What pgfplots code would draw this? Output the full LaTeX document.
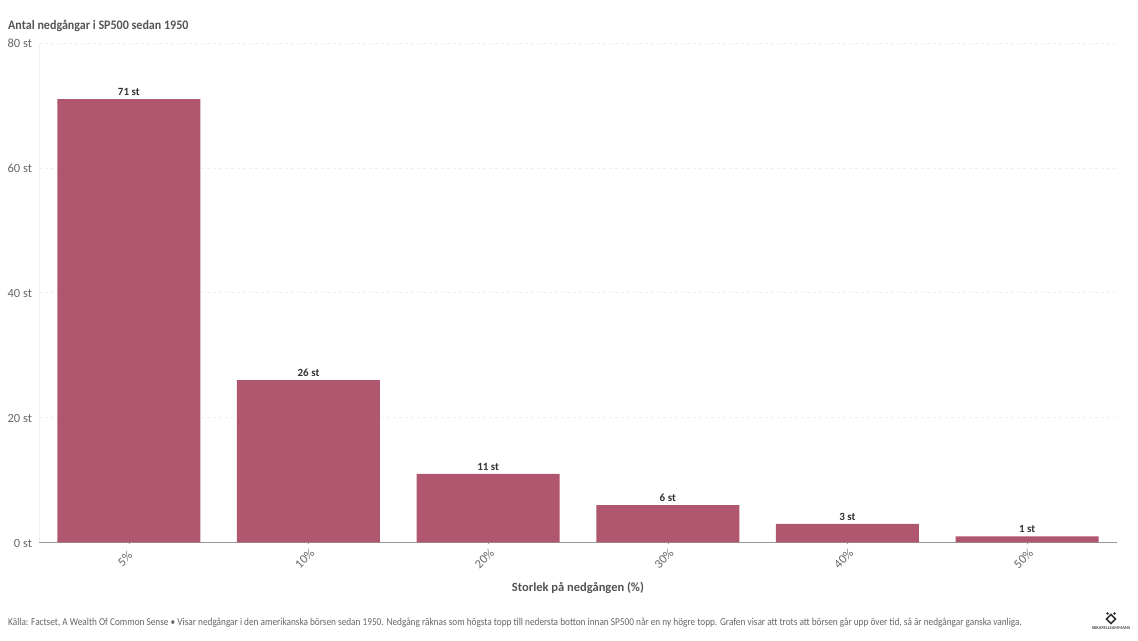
\documentclass[border=0pt]{standalone}
\usepackage{pgfplots}
\pgfplotsset{compat=1.18}
\usepackage{fontspec}
\setmainfont{Carlito}
\definecolor{bar}{HTML}{B0566F}
\definecolor{txt}{HTML}{666666}
\definecolor{dark}{HTML}{333333}
\definecolor{titlec}{HTML}{555555}
\begin{document}
\begin{tikzpicture}[x=1pt,y=1pt]
\path[use as bounding box] (0,0) rectangle (1138,640);
\begin{axis}[
  at={(39pt,97.5pt)}, anchor=south west,
  scale only axis, width=1078pt, height=499.5pt,
  xmin=-0.5, xmax=5.5, ymin=0, ymax=80,
  ybar, bar width=143pt,
  axis x line=bottom, axis y line=left,
  axis line style={draw=none},
  x axis line style={draw=black!40, line width=1pt, -},
  y axis line style={draw=black!6, line width=0.8pt, -},
  ytick={0,20,40,60,80},
  yticklabel={\pgfmathprintnumber{\tick} st},
  /pgf/number format/assume math mode=true,
  xtick={0,1,2,3,4,5},
  xticklabels={5\%,10\%,20\%,30\%,40\%,50\%},
  x tick label style={rotate=45, anchor=center, font=\fontsize{12.5}{14}\selectfont, text=txt, yshift=-7.7pt, xshift=-13.2pt},
  y tick label style={font=\fontsize{12.5}{14}\selectfont, text=txt, xshift=-2pt, yshift=-0.5pt},
  ymajorgrids, grid style={draw=black!6, dash pattern=on 3pt off 3pt, line width=0.5pt},
  major tick length=3pt,
  tick style={draw=black!40, line width=0.5pt},
  ytick style={draw=none},
  xlabel={\textbf{Storlek på nedgången (\%)}},
  x label style={font=\fontsize{12.5}{14}\selectfont, text=dark!85, at={(axis description cs:0.5,0)}, anchor=north, yshift=-36pt},
  nodes near coords={\textbf{\pgfmathprintnumber{\pgfplotspointmeta} st}},
  every node near coord/.append style={font=\fontsize{11}{12}\selectfont, text=dark, yshift=0pt},
  clip=false, axis on top=false,
]
\addplot[fill=bar, draw=none] coordinates {(0,71) (1,26) (2,11) (3,6) (4,3) (5,1)};
\end{axis}
\node[anchor=base west, text=titlec, font=\fontsize{13}{14}\selectfont\bfseries, inner sep=0, xscale=0.926] at (8,610) {Antal nedgångar i SP500 sedan 1950};
\node[anchor=base west, text=txt, font=\fontsize{10.5}{12}\selectfont, inner sep=0, xscale=0.883] at (8,15) {Källa: Factset, A Wealth Of Common Sense • Visar nedgångar i den amerikanska börsen sedan 1950. Nedgång räknas som högsta topp till nedersta botton innan SP500 når en ny högre topp. Grafen visar att trots att börsen går upp över tid, så är nedgångar ganska vanliga.};
\node[anchor=center, text=black!70, font=\fontsize{4.5}{5}\selectfont\bfseries, inner sep=0] at (1111,12) {SKKAFELLSAMMANS};
\draw[black!80, line width=1.6pt] (1111,16.5) -- (1115.5,21) -- (1111,25.5) -- (1106.5,21) -- cycle;
\fill[black!80] (1107.5,26.5) circle (1.4) (1114.5,26.5) circle (1.4);
\end{tikzpicture}
\end{document}
